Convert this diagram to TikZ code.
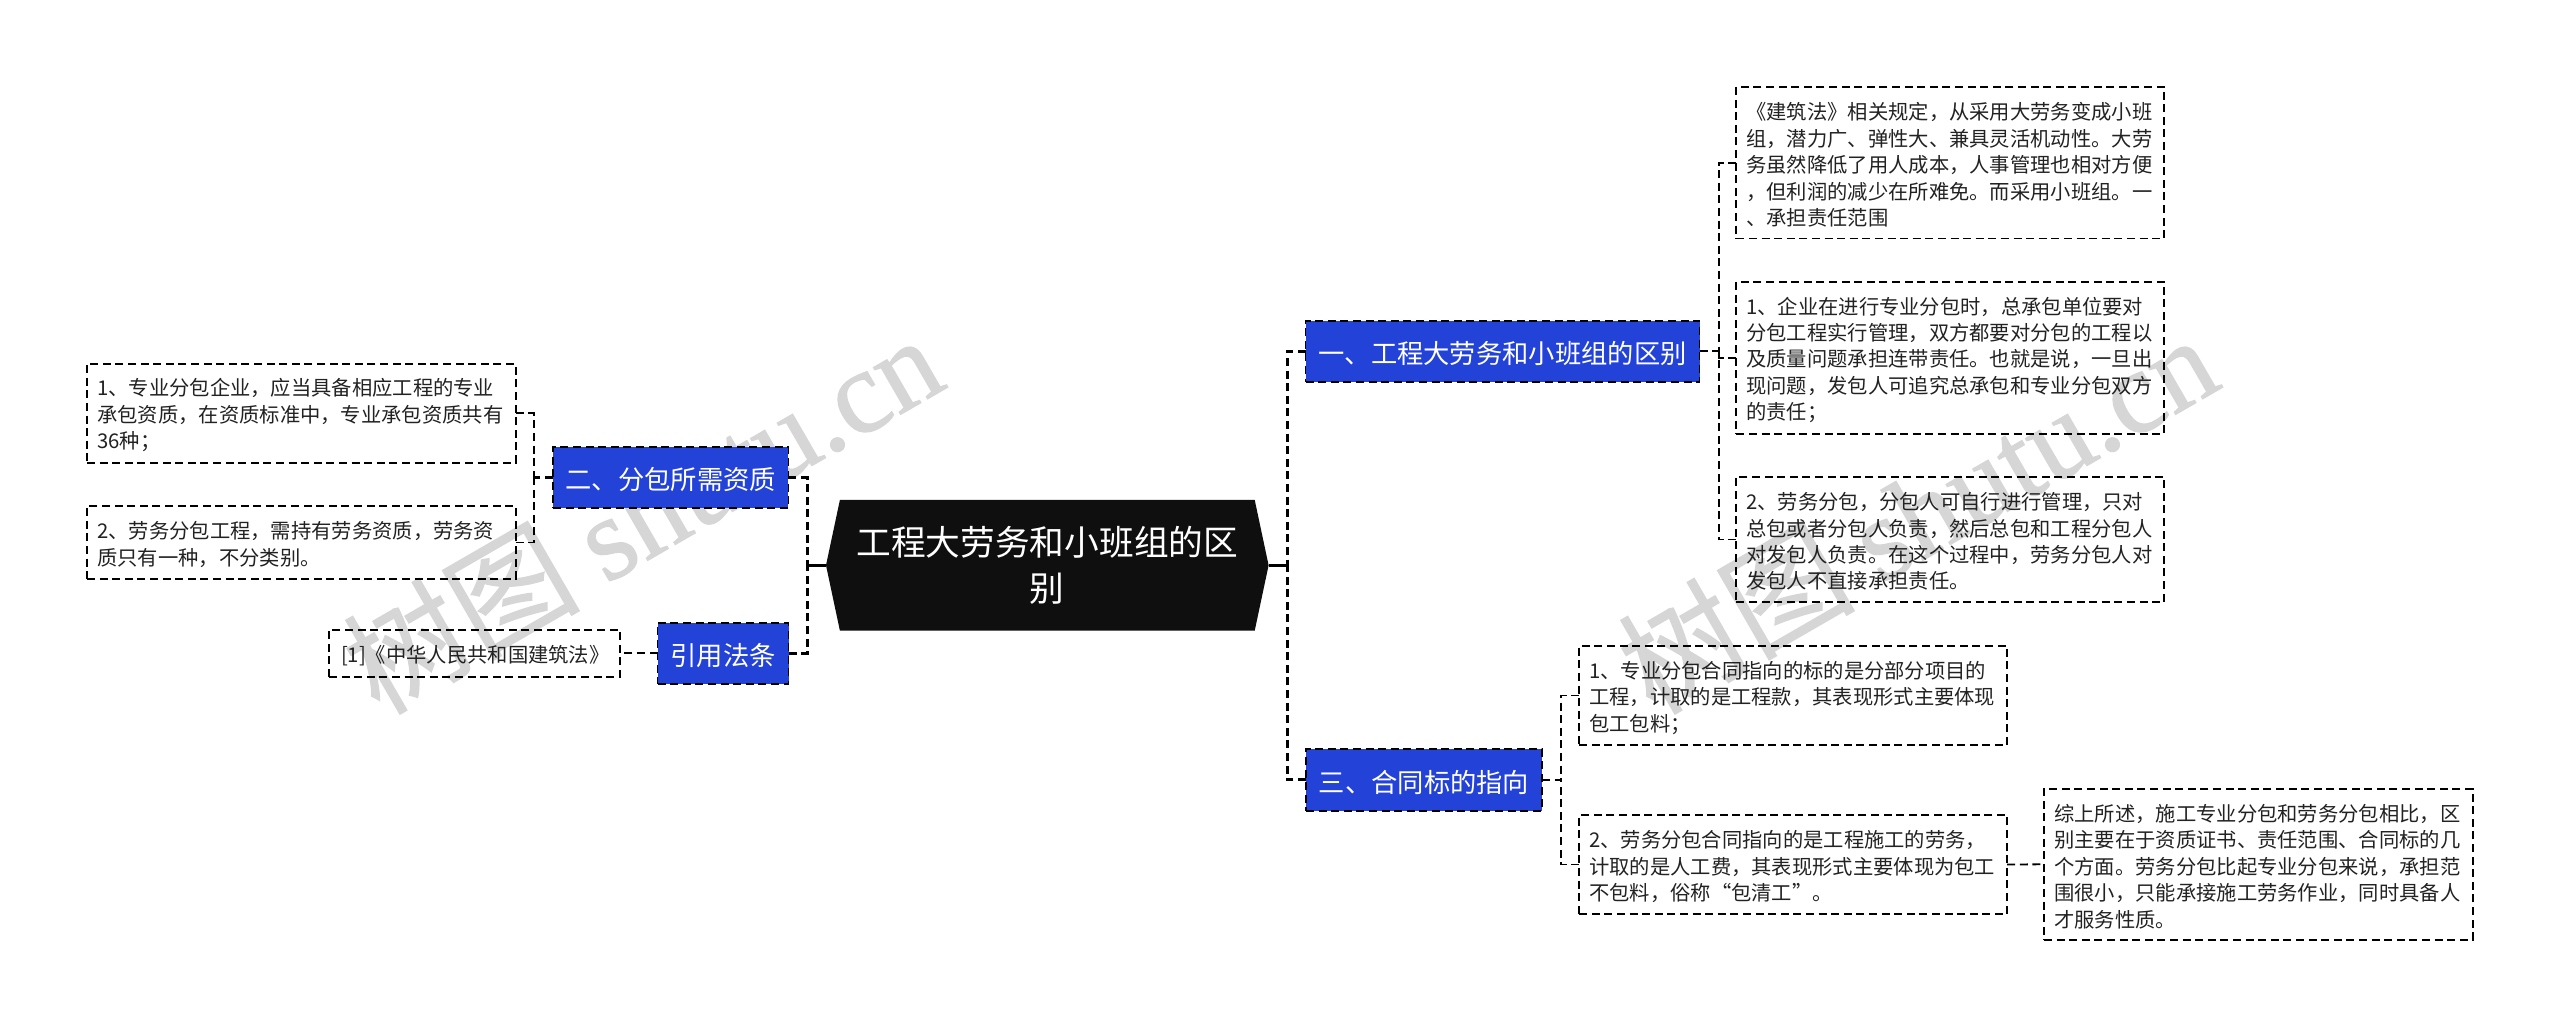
\documentclass[tikz,border=0pt]{standalone}
\usepackage{fontspec}
\setmainfont{Noto Sans CJK SC}
\newfontfamily\wmlatin[FakeBold=1]{Liberation Serif}
\newfontfamily\wmcjk[FakeBold=1]{Noto Sans CJK SC}
\usetikzlibrary{shapes.symbols}
\definecolor{rootblack}{HTML}{0F0F0F}
\definecolor{branchblue}{HTML}{2342D8}
\definecolor{wmgray}{HTML}{D6D6D6}
\definecolor{leaftext}{HTML}{222222}
\tikzset{
  dashstyle/.style={line width=1.8pt,dash pattern=on 8pt off 4.6pt},
  leaf/.style={draw=black,dashstyle,outer sep=0pt,inner xsep=10pt,inner ysep=0pt,align=left,text width=408pt,
    text=leaftext,font=\fontsize{20.3}{26.4}\selectfont,execute at begin node={\rule{0pt}{21.5pt}}},
  branch/.style={draw=black,dashstyle,fill=branchblue,text=white,outer sep=0pt,inner sep=0pt,align=center,
    font=\fontsize{26.3}{32}\selectfont,execute at begin node={\rule{0pt}{27pt}}},
  rootnode/.style={shape=signal,signal to=west and east,signal pointer angle=156,fill=rootblack,text=white,
    outer sep=0pt,inner sep=0pt,align=center,text width=400pt,font=\fontsize{34.7}{46}\selectfont},
  mainlink/.style={line width=3pt,dash pattern=on 8pt off 4.6pt,draw=black},
  sublink/.style={dashstyle,draw=black},
  stem/.style={line width=3pt,draw=black},
  watermark/.style={text=wmgray,anchor=base,rotate=30,inner sep=0pt,font=\fontsize{118}{118}\selectfont},
}
\begin{document}
\begin{tikzpicture}[x=1pt,y=-1pt]
\useasboundingbox (0,0) rectangle (2560,1027);
\fill[white] (0,0) rectangle (2560,1027);
% watermarks
\node[watermark] (wmA) at (664,551) {\wmcjk 树图 \wmlatin shutu.cn};
\node[watermark] (wmB) at (1939,551) {\wmcjk 树图 \wmlatin shutu.cn};
% root
\node[rootnode,minimum width=442.6pt,minimum height=130.7pt] (root) at (1047.3,565.3) {工程大劳务和小班组的区\\别};
% branches
\node[branch,minimum width=394pt,minimum height=61.3pt] (b1) at (1502.5,351.3) {一、工程大劳务和小班组的区别};
\node[branch,minimum width=236pt,minimum height=61.7pt] (b3) at (1424,779.8) {三、合同标的指向};
\node[branch,minimum width=235.5pt,minimum height=61pt] (b2) at (670.7,477.5) {二、分包所需资质};
\node[branch,minimum width=131pt,minimum height=61.3pt] (b4) at (723,653.3) {引用法条};
% leaves
\node[leaf,minimum width=427.5pt,minimum height=151.8pt] (la) at (1950.3,162.7) {《建筑法》相关规定，从采用大劳务变成小班\\组，潜力广、弹性大、兼具灵活机动性。大劳\\务虽然降低了用人成本，人事管理也相对方便\\，但利润的减少在所难免。而采用小班组。一\\、承担责任范围};
\node[leaf,minimum width=427.5pt,minimum height=151.8pt] (lb) at (1950.3,357.7) {1、企业在进行专业分包时，总承包单位要对\\分包工程实行管理，双方都要对分包的工程以\\及质量问题承担连带责任。也就是说，一旦出\\现问题，发包人可追究总承包和专业分包双方\\的责任；};
\node[leaf,minimum width=427.5pt,minimum height=125.2pt] (lc) at (1950.3,539.4) {2、劳务分包，分包人可自行进行管理，只对\\总包或者分包人负责，然后总包和工程分包人\\对发包人负责。在这个过程中，劳务分包人对\\发包人不直接承担责任。};
\node[leaf,minimum width=427.6pt,minimum height=99.6pt] (ld) at (1793.2,695.5) {1、专业分包合同指向的标的是分部分项目的\\工程，计取的是工程款，其表现形式主要体现\\包工包料；};
\node[leaf,minimum width=427.6pt,minimum height=99pt] (le) at (1793.2,864.5) {2、劳务分包合同指向的是工程施工的劳务，\\计取的是人工费，其表现形式主要体现为包工\\不包料，俗称“包清工”。};
\node[leaf,minimum width=428.6pt,minimum height=151.3pt] (lf) at (2258.3,864.3) {综上所述，施工专业分包和劳务分包相比，区\\别主要在于资质证书、责任范围、合同标的几\\个方面。劳务分包比起专业分包来说，承担范\\围很小，只能承接施工劳务作业，同时具备人\\才服务性质。};
\node[leaf,minimum width=428.6pt,minimum height=99pt] (lg) at (301.3,413.2) {1、专业分包企业，应当具备相应工程的专业\\承包资质，在资质标准中，专业承包资质共有\\36种；};
\node[leaf,minimum width=428.6pt,minimum height=73pt] (lh) at (301.3,542.5) {2、劳务分包工程，需持有劳务资质，劳务资\\质只有一种，不分类别。};
\node[leaf,text width=267pt,inner xsep=12pt,minimum width=291pt,minimum height=46.7pt] (li) at (474.5,653.3) {[1]《中华人民共和国建筑法》};
% junction points
\coordinate (sr) at (1287,565.3);
\coordinate (sl) at (807,565.3);
\coordinate (s1) at (1718.6,351.3);
\coordinate (s3) at (1561,779.8);
\coordinate (s2) at (533.6,477.5);
% connectors
\draw[stem] (root.east) -- (sr);
\draw[stem] (root.west) -- (sl);
\draw[mainlink] (b1.west) -| (sr);
\draw[mainlink] (b3.west) -| (sr);
\draw[mainlink] (b2.east) -| (sl);
\draw[mainlink] (b4.east) -| (sl);
\draw[sublink] (b1.east) -- (s1);
\draw[sublink] (la.west) -| (s1);
\draw[sublink] (lb.west) -| (s1);
\draw[sublink] (lc.west) -| (s1);
\draw[sublink] (b3.east) -- (s3);
\draw[sublink] (ld.west) -| (s3);
\draw[sublink] (le.west) -| (s3);
\draw[sublink] (le.east) -- (lf.west);
\draw[mainlink] (b2.west) -- (s2);
\draw[sublink] (lg.east) -| (s2);
\draw[sublink] (lh.east) -| (s2);
\draw[sublink] (b4.west) -- (li.east);
\end{tikzpicture}
\end{document}
